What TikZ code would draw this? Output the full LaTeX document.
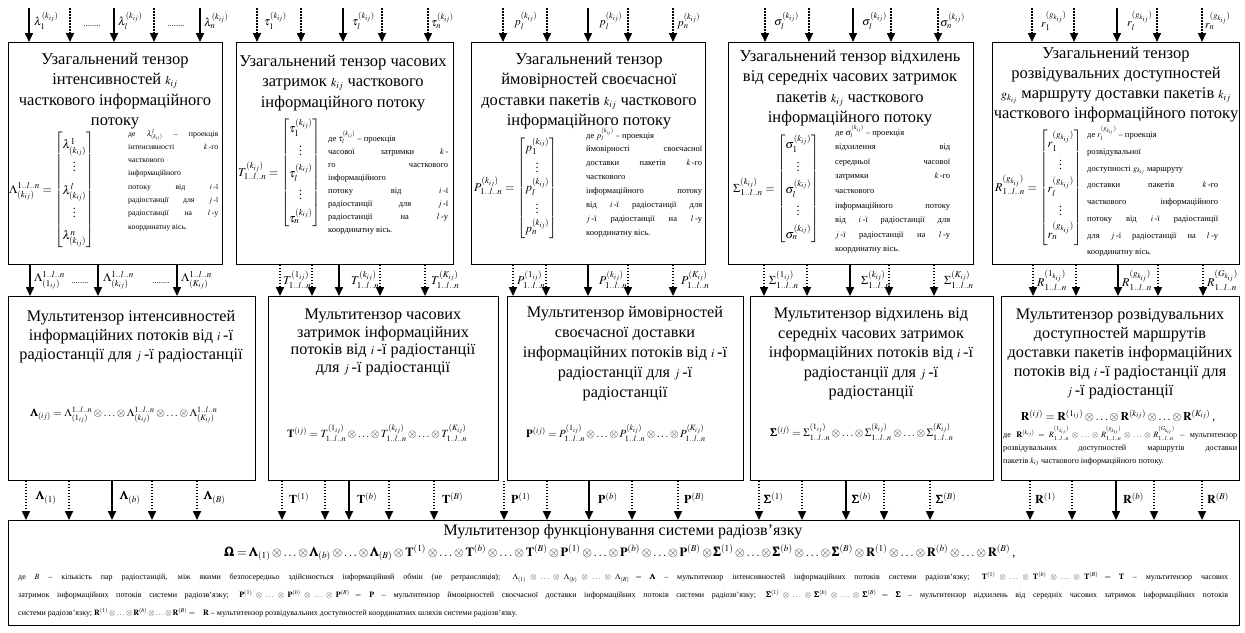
\documentclass[tikz,border=0pt]{standalone}
\usepackage{amsmath,amssymb}
\usepackage{mathptmx}
\usepackage[no-math]{fontspec}
\setmainfont{Liberation Serif}
\usetikzlibrary{arrows.meta}
\tolerance=9999
\hbadness=10000
\newcommand{\ttlfont}{\fontsize{16.5}{20.5}\selectfont}
\newcommand{\notefont}{\fontsize{8.5}{13.3}\selectfont}
\newcommand{\lblfont}{\fontsize{11.5}{13}\selectfont}
\newcommand{\mtxfont}{\fontsize{12}{14}\selectfont\def\arraystretch{1.6}}
\newcommand{\eqfont}{\fontsize{11}{13}\selectfont}
\newcommand{\otd}{\otimes\ldots\otimes}
\newcommand{\lln}{1..l..n}
\newcommand{\tm}[1]{{\fontsize{12}{12}\selectfont$#1$}}
\begin{document}
\begin{tikzpicture}[x=1pt,y=-1pt,
box/.style={draw, line width=0.9pt, anchor=north west, inner sep=0pt},
head/.style={align=center, anchor=north, inner sep=0pt, font=\ttlfont},
note/.style={align=justify, anchor=north west, inner sep=0pt, font=\notefont},
lbl/.style={anchor=west, inner sep=0pt, font=\lblfont},
dots/.style={anchor=base, inner sep=0pt, font=\notefont},
sarr/.style={-{Triangle[length=9pt,width=8pt]}, line width=1.6pt},
darr/.style={sarr, dash pattern=on 1.5pt off 1.5pt}
]
\useasboundingbox (0,0) rectangle (1245,632);

% generalised tensors
\node[box, minimum width=214pt, minimum height=222pt] (t1) at (8,42) {};
\node[box, minimum width=217pt, minimum height=222pt] (t2) at (236,42) {};
\node[box, minimum width=234pt, minimum height=222pt] (t3) at (471,42) {};
\node[box, minimum width=245pt, minimum height=222pt] (t4) at (728,42) {};
\node[box, minimum width=247pt, minimum height=222pt] (t5) at (992,42) {};

\node[head] (h1) at (115,53) {Узагальнений тензор\\інтенсивностей \tm{k_{ij}}\\часткового інформаційного\\потоку};
\node[head] (h2) at (343,55) {Узагальнений тензор часових\\затримок \tm{k_{ij}} часткового\\інформаційного потоку};
\node[head] (h3) at (589,53) {Узагальнений тензор\\ймовірностей своєчасної\\доставки пакетів \tm{k_{ij}} часткового\\інформаційного потоку};
\node[head] (h4) at (850,50) {Узагальнений тензор відхилень\\від середніх часових затримок\\пакетів \tm{k_{ij}} часткового\\інформаційного потоку};
\node[head, font=\fontsize{16.5}{20}\selectfont] (h5) at (1116,47) {Узагальнений тензор\\розвідувальних доступностей\\\tm{g_{k_{ij}}} маршруту доставки пакетів \tm{k_{ij}}\\часткового інформаційного потоку};

\node[anchor=west, inner sep=0pt, font=\mtxfont] (f1) at (9,190) {$\Lambda^{\lln}_{(k_{ij})}=\begin{bmatrix}\lambda^{1}_{(k_{ij})}\\ \vdots\\ \lambda^{l}_{(k_{ij})}\\ \vdots\\ \lambda^{n}_{(k_{ij})}\end{bmatrix}$};
\node[anchor=west, inner sep=0pt, font=\mtxfont] (f2) at (238,173) {$T^{(k_{ij})}_{\lln}=\begin{bmatrix}\tau_1^{(k_{ij})}\\ \vdots\\ \tau_l^{(k_{ij})}\\ \vdots\\ \tau_n^{(k_{ij})}\end{bmatrix}$};
\node[anchor=west, inner sep=0pt, font=\mtxfont\def\arraystretch{1.4}] (f3) at (474,188) {$P^{(k_{ij})}_{\lln}=\begin{bmatrix}p_1^{(k_{ij})}\\ \vdots\\ p_l^{(k_{ij})}\\ \vdots\\ p_n^{(k_{ij})}\end{bmatrix}$};
\node[anchor=west, inner sep=0pt, font=\mtxfont] (f4) at (733,189) {$\Sigma^{(k_{ij})}_{\lln}=\begin{bmatrix}\sigma_1^{(k_{ij})}\\ \vdots\\ \sigma_l^{(k_{ij})}\\ \vdots\\ \sigma_n^{(k_{ij})}\end{bmatrix}$};
\node[anchor=west, inner sep=0pt, font=\mtxfont\def\arraystretch{1.6}] (f5) at (995,188) {$R^{(g_{k_{ij}})}_{\lln}=\begin{bmatrix}r_1^{(g_{k_{ij}})}\\ \vdots\\ r_l^{(g_{k_{ij}})}\\ \vdots\\ r_n^{(g_{k_{ij}})}\end{bmatrix}$};

\node[note, text width=90pt, font=\fontsize{7.8}{13.3}\selectfont] (d1) at (128,129) {де $\lambda^{l}_{(k_{ij})}$ – проекція\linebreak інтенсивності $k$\,-го\linebreak часткового\linebreak інформаційного\linebreak потоку від $i$\,-ї\linebreak радіостанції для $j$\,-ї\linebreak радіостанції на $l$\,-у\linebreak координатну вісь.};
\node[note, text width=120pt, font=\fontsize{8.5}{13}\selectfont] (d2) at (328,131) {де $\tau_l^{(k_{ij})}$ – проекція\\ часової затримки $k$\,-\linebreak го часткового\linebreak інформаційного\linebreak потоку від $i$\,-ї\linebreak радіостанції для $j$\,-ї\linebreak радіостанції на $l$\,-у\linebreak координатну вісь.};
\node[note, text width=116pt, font=\fontsize{8.5}{13.9}\selectfont] (d3) at (586,128) {де $p_l^{(k_{ij})}$ – проекція\\ ймовірності своєчасної\linebreak доставки пакетів $k$\,-го\linebreak часткового\linebreak інформаційного потоку\linebreak від $i$\,-ї радіостанції для\linebreak $j$\,-ї радіостанції на $l$\,-у\linebreak координатну вісь.};
\node[note, text width=115pt, font=\fontsize{8.5}{14.6}\selectfont] (d4) at (835,125) {де $\sigma_l^{(k_{ij})}$ – проекція\\ відхилення від\linebreak середньої часової\linebreak затримки $k$\,-го\linebreak часткового\linebreak інформаційного потоку\linebreak від $i$\,-ї радіостанції для\linebreak $j$\,-ї радіостанції на $l$\,-у\linebreak координатну вісь.};
\node[note, text width=131pt, font=\fontsize{8.5}{16.7}\selectfont] (d5) at (1087,126) {де $r_l^{(g_{k_{ij}})}$ – проекція\\ розвідувальної\\ доступності $g_{k_{ij}}$ маршруту\\ доставки пакетів $k$\,-го\linebreak часткового інформаційного\linebreak потоку від $i$\,-ї радіостанції\linebreak для $j$\,-ї радіостанції на $l$\,-у\linebreak координатну вісь.};

% multitensors
\node[box, minimum width=247pt, minimum height=184pt] (m1) at (8,296) {};
\node[box, minimum width=230pt, minimum height=184pt] (m2) at (268,296) {};
\node[box, minimum width=236pt, minimum height=184pt] (m3) at (507,296) {};
\node[box, minimum width=243pt, minimum height=184pt] (m4) at (750,296) {};
\node[box, minimum width=238pt, minimum height=184pt] (m5) at (1001,296) {};

\node[head, font=\fontsize{16.2}{19}\selectfont] (g1) at (131,310) {Мультитензор інтенсивностей\\інформаційних потоків від \tm{i}\,-ї\\радіостанції для \tm{j}\,-ї радіостанції};
\node[head, font=\fontsize{16.2}{17.5}\selectfont] (g2) at (383,309) {Мультитензор часових\\затримок інформаційних\\потоків від \tm{i}\,-ї радіостанції\\для \tm{j}\,-ї радіостанції};
\node[head, font=\fontsize{16.2}{20}\selectfont] (g3) at (625,306) {Мультитензор ймовірностей\\своєчасної доставки\\інформаційних потоків від \tm{i}\,-ї\\радіостанції для \tm{j}\,-ї\\радіостанції};
\node[head, font=\fontsize{16.2}{19.5}\selectfont] (g4) at (871,308) {Мультитензор відхилень від\\середніх часових затримок\\інформаційних потоків від \tm{i}\,-ї\\радіостанції для \tm{j}\,-ї\\радіостанції};
\node[head, font=\fontsize{16.2}{19}\selectfont] (g5) at (1120,309) {Мультитензор розвідувальних\\доступностей маршрутів\\доставки пакетів інформаційних\\потоків від \tm{i}\,-ї радіостанції для\\\tm{j}\,-ї радіостанції};

\node[inner sep=0pt, font=\eqfont] (e1) at (124,415) {$\pmb{\Lambda}_{(ij)}=\Lambda^{\lln}_{(1_{ij})}\otd\Lambda^{\lln}_{(k_{ij})}\otd\Lambda^{\lln}_{(K_{ij})}$};
\node[inner sep=0pt, font=\eqfont] (e2) at (377,433) {$\mathbf{T}^{(ij)}=T^{(1_{ij})}_{\lln}\otd T^{(k_{ij})}_{\lln}\otd T^{(K_{ij})}_{\lln}$};
\node[inner sep=0pt, font=\eqfont] (e3) at (616,433) {$\mathbf{P}^{(ij)}=P^{(1_{ij})}_{\lln}\otd P^{(k_{ij})}_{\lln}\otd P^{(K_{ij})}_{\lln}$};
\node[inner sep=0pt, font=\eqfont] (e4) at (862,432) {$\pmb{\Sigma}^{(ij)}=\Sigma^{(1_{ij})}_{\lln}\otd\Sigma^{(k_{ij})}_{\lln}\otd\Sigma^{(K_{ij})}_{\lln}$};
\node[inner sep=0pt, font=\fontsize{11.8}{14}\selectfont] (e5) at (1118,416) {$\mathbf{R}^{(ij)}=\mathbf{R}^{(1_{ij})}\otd\mathbf{R}^{(k_{ij})}\otd\mathbf{R}^{(K_{ij})}$\,,};
\node[note, text width=234pt, font=\fontsize{8.2}{13}\selectfont] (d6) at (1003,426) {де $\mathbf{R}^{(k_{ij})}=R^{(1_{k_{ij}})}_{\lln}\otd R^{(g_{k_{ij}})}_{\lln}\otd R^{(G_{k_{ij}})}_{\lln}$ – мультитензор\linebreak розвідувальних доступностей маршрутів доставки\linebreak пакетів $k_{ij}$ часткового інформаційного потоку.};

% system multitensor
\node[box, minimum width=1231pt, minimum height=105pt] (sys) at (8,520) {};
\node[head, font=\fontsize{16}{19}\selectfont] (hs) at (623,524) {Мультитензор функціонування системи радіозв'язку};
\node[inner sep=0pt, font=\fontsize{12.5}{14}\selectfont] (es) at (620,553) {$\pmb{\Omega}=\pmb{\Lambda}_{(1)}\otd\pmb{\Lambda}_{(b)}\otd\pmb{\Lambda}_{(B)}\otimes\mathbf{T}^{(1)}\otd\mathbf{T}^{(b)}\otd\mathbf{T}^{(B)}\otimes\mathbf{P}^{(1)}\otd\mathbf{P}^{(b)}\otd\mathbf{P}^{(B)}\otimes\pmb{\Sigma}^{(1)}\otd\pmb{\Sigma}^{(b)}\otd\pmb{\Sigma}^{(B)}\otimes\mathbf{R}^{(1)}\otd\mathbf{R}^{(b)}\otd\mathbf{R}^{(B)}$\,,};
\node[note, text width=1210pt, font=\fontsize{8}{18}\selectfont] (ds) at (18,572) {де $B$ – кількість пар радіостанцій, між якими безпосередньо здійснюється інформаційний обмін (не ретрансляція); $\Lambda_{(1)}\otd\Lambda_{(b)}\otd\Lambda_{(B)}=$\quad $\pmb{\Lambda}$ – мультитензор інтенсивностей інформаційних потоків системи радіозв'язку; $\mathbf{T}^{(1)}\otd\mathbf{T}^{(b)}\otd\mathbf{T}^{(B)}=$\quad $\mathbf{T}$ – мультитензор часових\linebreak затримок інформаційних потоків системи радіозв'язку; $\mathbf{P}^{(1)}\otd\mathbf{P}^{(b)}\otd\mathbf{P}^{(B)}=$\quad $\mathbf{P}$ – мультитензор ймовірностей своєчасної доставки інформаційних потоків системи радіозв'язку; $\pmb{\Sigma}^{(1)}\otd\pmb{\Sigma}^{(b)}\otd\pmb{\Sigma}^{(B)}=$\quad $\pmb{\Sigma}$ – мультитензор відхилень від середніх часових затримок інформаційних потоків\linebreak системи радіозв'язку; $\mathbf{R}^{(1)}\otd\mathbf{R}^{(b)}\otd\mathbf{R}^{(B)}=$\quad $\mathbf{R}$ – мультитензор розвідувальних доступностей координатних шляхів системи радіозв'язку.};

% inputs of the generalised tensors
\foreach \x/\st in {29/sarr,70/darr,114/sarr,154/darr,200/sarr}{
  \coordinate (a\x) at (\x,8);
  \draw[\st] (a\x) -- (a\x |- t1.north);
}
\foreach \x/\st in {257/darr,301/darr,343/sarr,382/darr,428/darr}{
  \coordinate (a\x) at (\x,8);
  \draw[\st] (a\x) -- (a\x |- t2.north);
}
\foreach \x/\st in {503/darr,547/darr,588/sarr,628/darr,673/darr}{
  \coordinate (a\x) at (\x,8);
  \draw[\st] (a\x) -- (a\x |- t3.north);
}
\foreach \x/\st in {765/darr,809/darr,853/sarr,891/darr,938/darr}{
  \coordinate (a\x) at (\x,8);
  \draw[\st] (a\x) -- (a\x |- t4.north);
}
\foreach \x/\st in {1032/darr,1074/darr,1117/sarr,1157/darr,1202/darr}{
  \coordinate (a\x) at (\x,8);
  \draw[\st] (a\x) -- (a\x |- t5.north);
}

% generalised tensors to multitensors
\foreach \x/\st in {30/sarr,98/sarr,177/sarr}{
  \coordinate (b\x) at (\x,0);
  \draw[\st] (b\x |- t1.south) -- (b\x |- m1.north);
}
\foreach \x/\st in {280/darr,312/darr,339/sarr,380/darr,425/darr}{
  \coordinate (b\x) at (\x,0);
  \draw[\st] (b\x |- t2.south) -- (b\x |- m2.north);
}
\foreach \x/\st in {513/darr,546/darr,588/sarr,628/darr,673/darr}{
  \coordinate (b\x) at (\x,0);
  \draw[\st] (b\x |- t3.south) -- (b\x |- m3.north);
}
\foreach \x/\st in {764/darr,807/darr,850/sarr,889/darr,934/darr}{
  \coordinate (b\x) at (\x,0);
  \draw[\st] (b\x |- t4.south) -- (b\x |- m4.north);
}
\foreach \x/\st in {1033/darr,1076/darr,1118/sarr,1158/darr,1203/darr}{
  \coordinate (b\x) at (\x,0);
  \draw[\st] (b\x |- t5.south) -- (b\x |- m5.north);
}

% multitensors to the system
\foreach \x/\st in {26/darr,69/darr,112/sarr,152/darr,197/darr}{
  \coordinate (c\x) at (\x,0);
  \draw[\st] (c\x |- m1.south) -- (c\x |- sys.north);
}
\foreach \x/\st in {282/darr,325/darr,349/sarr,389/darr,434/darr}{
  \coordinate (c\x) at (\x,0);
  \draw[\st] (c\x |- m2.south) -- (c\x |- sys.north);
}
\foreach \x/\st in {504/darr,547/darr,589/sarr,632/darr,678/darr}{
  \coordinate (c\x) at (\x,0);
  \draw[\st] (c\x |- m3.south) -- (c\x |- sys.north);
}
\foreach \x/\st in {759/darr,802/darr,846/sarr,884/darr,930/darr}{
  \coordinate (c\x) at (\x,0);
  \draw[\st] (c\x |- m4.south) -- (c\x |- sys.north);
}
\foreach \x/\st in {1030/darr,1072/darr,1116/sarr,1154/darr,1202/darr}{
  \coordinate (c\x) at (\x,0);
  \draw[\st] (c\x |- m5.south) -- (c\x |- sys.north);
}

% labels of the inputs
\node[lbl] (la1) at (34,21) {$\lambda_1^{(k_{ij})}$};
\node[dots] (oa1) at (92,26) {........};
\node[lbl] (la2) at (118,21) {$\lambda_l^{(k_{ij})}$};
\node[dots] (oa2) at (176,26) {........};
\node[lbl] (la3) at (204,21) {$\lambda_n^{(k_{ij})}$};
\node[lbl] (la4) at (264,21) {$\tau_1^{(k_{ij})}$};
\node[lbl] (la5) at (352,21) {$\tau_l^{(k_{ij})}$};
\node[lbl] (la6) at (431,21) {$\tau_n^{(k_{ij})}$};
\node[lbl] (la7) at (514,21) {$p_l^{(k_{ij})}$};
\node[lbl] (la8) at (599,21) {$p_l^{(k_{ij})}$};
\node[lbl] (la9) at (677,21) {$p_n^{(k_{ij})}$};
\node[lbl] (la10) at (774,21) {$\sigma_l^{(k_{ij})}$};
\node[lbl] (la11) at (862,21) {$\sigma_l^{(k_{ij})}$};
\node[lbl] (la12) at (940,21) {$\sigma_n^{(k_{ij})}$};
\node[lbl] (la13) at (1041,21) {$r_1^{(g_{k_{ij}})}$};
\node[lbl] (la14) at (1127,21) {$r_l^{(g_{k_{ij}})}$};
\node[lbl] (la15) at (1205,21) {$r_n^{(g_{k_{ij}})}$};

% labels between the rows
\node[lbl, font=\fontsize{12}{13}\selectfont] (lb1) at (34,280) {$\Lambda^{\lln}_{(1_{ij})}$};
\node[dots] (ob1) at (80,283) {........};
\node[lbl, font=\fontsize{12}{13}\selectfont] (lb2) at (103,280) {$\Lambda^{\lln}_{(k_{ij})}$};
\node[dots] (ob2) at (161,283) {........};
\node[lbl, font=\fontsize{12}{13}\selectfont] (lb3) at (181,280) {$\Lambda^{\lln}_{(K_{ij})}$};
\node[lbl, font=\fontsize{12}{13}\selectfont] (lb4) at (283,280) {$T^{(1_{ij})}_{\lln}$};
\node[lbl, font=\fontsize{12}{13}\selectfont] (lb5) at (351,280) {$T^{(k_{ij})}_{\lln}$};
\node[lbl, font=\fontsize{12}{13}\selectfont] (lb6) at (431,280) {$T^{(K_{ij})}_{\lln}$};
\node[lbl, font=\fontsize{12}{13}\selectfont] (lb7) at (517,280) {$P^{(1_{ij})}_{\lln}$};
\node[lbl, font=\fontsize{12}{13}\selectfont] (lb8) at (599,280) {$P^{(k_{ij})}_{\lln}$};
\node[lbl, font=\fontsize{12}{13}\selectfont] (lb9) at (681,280) {$P^{(K_{ij})}_{\lln}$};
\node[lbl, font=\fontsize{12}{13}\selectfont] (lb10) at (769,280) {$\Sigma^{(1_{ij})}_{\lln}$};
\node[lbl, font=\fontsize{12}{13}\selectfont] (lb11) at (861,280) {$\Sigma^{(k_{ij})}_{\lln}$};
\node[lbl, font=\fontsize{12}{13}\selectfont] (lb12) at (944,280) {$\Sigma^{(K_{ij})}_{\lln}$};
\node[lbl, font=\fontsize{12}{13}\selectfont] (lb13) at (1037,280) {$R^{(1_{k_{ij}})}_{\lln}$};
\node[lbl, font=\fontsize{12}{13}\selectfont] (lb14) at (1122,280) {$R^{(g_{k_{ij}})}_{\lln}$};
\node[lbl, font=\fontsize{12}{13}\selectfont] (lb15) at (1207,280) {$R^{(G_{k_{ij}})}_{\lln}$};

% labels above the system
\node[lbl, font=\fontsize{12}{13}\selectfont] (lc1) at (36,498) {$\pmb{\Lambda}_{(1)}$};
\node[lbl, font=\fontsize{12}{13}\selectfont] (lc2) at (120,498) {$\pmb{\Lambda}_{(b)}$};
\node[lbl, font=\fontsize{12}{13}\selectfont] (lc3) at (204,498) {$\pmb{\Lambda}_{(B)}$};
\node[lbl, font=\fontsize{12}{13}\selectfont] (lc4) at (289,498) {$\mathbf{T}^{(1)}$};
\node[lbl, font=\fontsize{12}{13}\selectfont] (lc5) at (357,498) {$\mathbf{T}^{(b)}$};
\node[lbl, font=\fontsize{12}{13}\selectfont] (lc6) at (442,498) {$\mathbf{T}^{(B)}$};
\node[lbl, font=\fontsize{12}{13}\selectfont] (lc7) at (511,498) {$\mathbf{P}^{(1)}$};
\node[lbl, font=\fontsize{12}{13}\selectfont] (lc8) at (598,498) {$\mathbf{P}^{(b)}$};
\node[lbl, font=\fontsize{12}{13}\selectfont] (lc9) at (684,498) {$\mathbf{P}^{(B)}$};
\node[lbl, font=\fontsize{12}{13}\selectfont] (lc10) at (764,498) {$\pmb{\Sigma}^{(1)}$};
\node[lbl, font=\fontsize{12}{13}\selectfont] (lc11) at (852,498) {$\pmb{\Sigma}^{(b)}$};
\node[lbl, font=\fontsize{12}{13}\selectfont] (lc12) at (936,498) {$\pmb{\Sigma}^{(B)}$};
\node[lbl, font=\fontsize{12}{13}\selectfont] (lc13) at (1035,498) {$\mathbf{R}^{(1)}$};
\node[lbl, font=\fontsize{12}{13}\selectfont] (lc14) at (1123,498) {$\mathbf{R}^{(b)}$};
\node[lbl, font=\fontsize{12}{13}\selectfont] (lc15) at (1207,498) {$\mathbf{R}^{(B)}$};
\end{tikzpicture}
\end{document}
